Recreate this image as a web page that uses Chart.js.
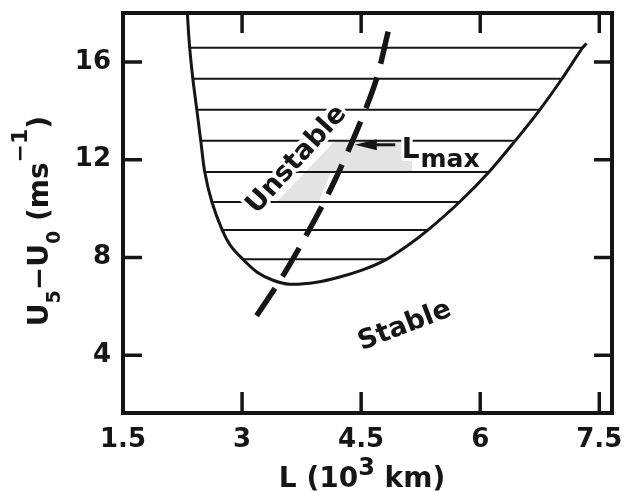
<!DOCTYPE html>
<html>
<head>
<meta charset="utf-8">
<script src="https://cdn.jsdelivr.net/npm/chart.js@4.4.1/dist/chart.umd.min.js"></script>
<style>
  html, body { margin: 0; padding: 0; background: #fff; }
</style>
</head>
<body>
<canvas id="chart" width="627" height="491"></canvas>
<script>
// axis ticks
const xTicks = [1.5, 3, 4.5, 6, 7.5];
const yTicks = [4, 8, 12, 16];

// neutral stability curve, L (10^3 km) vs U5-U0 (m/s)
const neutralL = [2.31, 2.34, 2.38, 2.43, 2.48, 2.53, 2.62, 2.75, 2.85, 3.01, 3.19, 3.39, 3.60, 3.94, 4.23, 4.51, 4.79, 5.06, 5.34, 5.74, 6.11, 6.44, 6.75, 7.03, 7.29, 7.34];
const neutralU = [18.0, 16.58, 15.31, 14.04, 12.77, 11.50, 10.27, 9.12, 8.51, 7.93, 7.40, 7.07, 6.91, 6.99, 7.20, 7.48, 7.87, 8.43, 9.12, 10.27, 11.50, 12.77, 14.04, 15.31, 16.58, 16.75];

// wavelength of maximum growth (dashed)
const lmaxL = [4.84, 4.69, 4.45, 4.11, 3.79, 3.52, 3.18];
const lmaxU = [17.24, 15.27, 13.22, 10.76, 8.80, 7.28, 5.60];

// hatching of the unstable region
const hatchU = [16.58, 15.31, 14.04, 12.77, 11.50, 10.27, 9.12, 7.93];
const hatchLeft = [2.34, 2.38, 2.43, 2.48, 2.53, 2.62, 2.75, 3.01];
const hatchRight = [7.29, 7.03, 6.75, 6.44, 6.11, 5.74, 5.34, 4.81];

// light grey patch
const patchL = [4.17, 5.14, 5.14, 4.12, 3.97, 3.45];
const patchU = [12.77, 12.77, 11.50, 11.50, 10.31, 10.31];

const FONT = '"DejaVu Sans", "Liberation Sans", sans-serif';
const INK = '#151515';

const pts = (xs, ys) => xs.map((v, i) => ({x: v, y: ys[i]}));

const datasets = [];
datasets.push({
    data: pts(lmaxL, lmaxU),
    showLine: true,
    borderColor: INK,
    borderWidth: 5.5,
    borderDash: [33, 14],
    tension: 0.3,
    pointRadius: 0,
    order: 0,
});
datasets.push({
    data: pts(neutralL, neutralU),
    showLine: true,
    borderColor: INK,
    borderWidth: 3,
    tension: 0.35,
    pointRadius: 0,
    order: 1,
});
hatchU.forEach((u, i) => {
    datasets.push({
        data: [{x: hatchLeft[i], y: u}, {x: hatchRight[i], y: u}],
        showLine: true,
        borderColor: INK,
        borderWidth: 2,
        pointRadius: 0,
        order: 2,
    });
});
datasets.push({
    data: pts(patchL, patchU),
    showLine: true,
    borderWidth: 0,
    borderColor: "rgba(0,0,0,0)",
    backgroundColor: "#e3e3e3",
    fill: "shape",
    pointRadius: 0,
    order: 5,
});

// draw a run of text pieces (sub / superscripts) along a rotated baseline
function richText(ctx, parts, x, y, angle) {
    ctx.save();
    ctx.translate(x, y);
    ctx.rotate(angle * Math.PI / 180);
    ctx.textBaseline = "alphabetic";
    ctx.textAlign = "left";
    let total = 0;
    parts.forEach(p => {
        ctx.font = "bold " + p.size + "px " + FONT;
        p.w = ctx.measureText(p.t).width;
        total += p.w;
    });
    let cx = -total / 2;
    parts.forEach(p => {
        ctx.font = "bold " + p.size + "px " + FONT;
        ctx.fillStyle = INK;
        ctx.fillText(p.t, cx, p.dy || 0);
        cx += p.w;
    });
    ctx.restore();
}

function haloText(ctx, text, x, y, angle, size, align) {
    ctx.save();
    ctx.translate(x, y);
    ctx.rotate(angle * Math.PI / 180);
    ctx.font = "bold " + size + "px " + FONT;
    ctx.textAlign = align || "center";
    ctx.textBaseline = "middle";
    ctx.lineJoin = "round";
    ctx.strokeStyle = "#fff";
    ctx.lineWidth = 7;
    ctx.strokeText(text, 0, 0);
    ctx.fillStyle = INK;
    ctx.fillText(text, 0, 0);
    ctx.restore();
}

const decorations = {
    id: "decorations",
    afterDatasetsDraw(chart) {
        const {ctx, scales: {x, y}} = chart;
        haloText(ctx, "Unstable", x.getPixelForValue(3.69), y.getPixelForValue(12.0), -48, 27);
        haloText(ctx, "Stable", x.getPixelForValue(5.05), y.getPixelForValue(5.19), -21, 27);

        // L_max label
        const lx = x.getPixelForValue(5.01), ly = y.getPixelForValue(12.07);
        ctx.save();
        ctx.font = "bold 28px " + FONT;
        ctx.textBaseline = "alphabetic";
        ctx.lineJoin = "round";
        ctx.strokeStyle = "#fff";
        ctx.lineWidth = 6;
        ctx.strokeText("L", lx, ly);
        ctx.fillStyle = INK;
        ctx.fillText("L", lx, ly);
        const lw = ctx.measureText("L").width;
        ctx.font = "bold 25px " + FONT;
        ctx.fillText("max", lx + lw + 1, ly + 9);
        ctx.restore();

        // arrow to the dashed line
        const tx = x.getPixelForValue(4.42), ty = y.getPixelForValue(12.61);
        const ex = x.getPixelForValue(4.93);
        ctx.save();
        ctx.strokeStyle = INK;
        ctx.fillStyle = INK;
        ctx.lineWidth = 3;
        ctx.beginPath();
        ctx.moveTo(tx + 16, ty);
        ctx.lineTo(ex, ty);
        ctx.stroke();
        ctx.beginPath();
        ctx.moveTo(tx, ty);
        ctx.lineTo(tx + 22, ty - 5.5);
        ctx.lineTo(tx + 22, ty + 5.5);
        ctx.closePath();
        ctx.fill();
        ctx.restore();
    },
    afterDraw(chart) {
        const {ctx, chartArea: a, scales: {x, y}} = chart;
        ctx.save();
        ctx.strokeStyle = INK;
        ctx.lineWidth = 4;
        ctx.strokeRect(a.left, a.top, a.right - a.left, a.bottom - a.top);
        ctx.lineWidth = 3.5;
        ctx.beginPath();
        xTicks.forEach(v => {
            const px = x.getPixelForValue(v);
            if (px <= a.left + 2) return;
            ctx.moveTo(px, a.bottom);
            ctx.lineTo(px, a.bottom - 21);
            ctx.moveTo(px, a.top);
            ctx.lineTo(px, a.top + 20);
        });
        yTicks.forEach(v => {
            const py = y.getPixelForValue(v);
            ctx.moveTo(a.left, py);
            ctx.lineTo(a.left + 19, py);
            ctx.moveTo(a.right, py);
            ctx.lineTo(a.right - 18, py);
        });
        ctx.stroke();
        ctx.restore();

        // axis titles
        richText(ctx, [
            {t: "L (10", size: 28},
            {t: "3", size: 24, dy: -12},
            {t: " km)", size: 28},
        ], 362, 487, 0);
        richText(ctx, [
            {t: "U", size: 28},
            {t: "5", size: 19, dy: 12},
            {t: "\u2212", size: 28},
            {t: "U", size: 28},
            {t: "0", size: 19, dy: 12},
            {t: " (ms", size: 28},
            {t: "\u22121", size: 22, dy: -21},
            {t: ")", size: 28},
        ], 48, 221, -90);
    },
};

new Chart(document.getElementById("chart"), {
    type: "scatter",
    data: {datasets: datasets},
    options: {
        responsive: false,
        animation: false,
        layout: {
            padding: {top: 13, right: 15, left: 0, bottom: 0},
            autoPadding: false,
        },
        plugins: {
            legend: {display: false},
            tooltip: {enabled: false},
        },
        scales: {
            x: {
                type: "linear",
                min: 1.5,
                max: 7.66,
                grid: {display: false, drawTicks: false},
                border: {display: false},
                afterBuildTicks: (s) => { s.ticks = xTicks.map(v => ({value: v})); },
                afterFit: (s) => {
                    s.height = 78;
                    s.paddingLeft = 0;
                    s.paddingRight = 0;
                },
                ticks: {
                    color: INK,
                    font: {family: FONT, size: 26, weight: "bold"},
                    padding: 12,
                    maxRotation: 0,
                    autoSkip: false,
                    callback: (v) => String(v),
                },
            },
            y: {
                type: "linear",
                min: 1.64,
                max: 18,
                grid: {display: false, drawTicks: false},
                border: {display: false},
                afterBuildTicks: (s) => { s.ticks = yTicks.map(v => ({value: v})); },
                afterFit: (s) => {
                    s.width = 123;
                    s.paddingTop = 0;
                    s.paddingBottom = 0;
                },
                ticks: {
                    color: INK,
                    font: {family: FONT, size: 26, weight: "bold"},
                    padding: 12,
                    autoSkip: false,
                    callback: (v) => String(v),
                },
            },
        },
    },
    plugins: [decorations],
});
</script>
</body>
</html>
